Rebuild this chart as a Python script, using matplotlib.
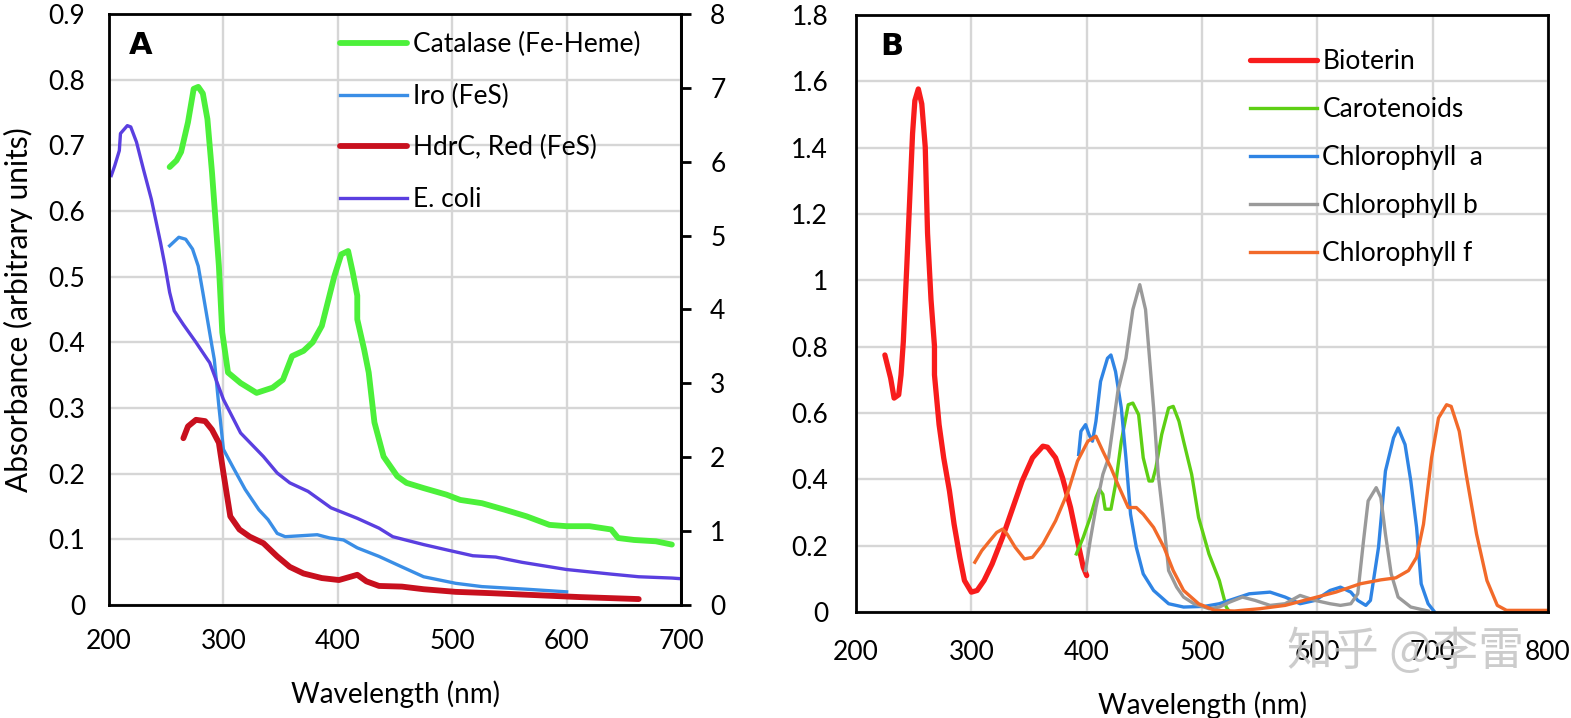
import matplotlib
matplotlib.use('Agg')
import matplotlib.pyplot as plt
import numpy as np

plt.rcParams['font.family'] = ['Lato', 'DejaVu Sans']

# ---------- Panel A data (left axis units) ----------
catalase_x = [253, 259, 263, 269, 274, 278, 282, 286, 290, 296, 299, 304, 315, 329, 343, 352, 360,
              370, 378, 386, 397, 403, 409, 413, 417, 417, 423, 427, 432, 440, 452, 460, 475, 495,
              507, 526, 546, 565, 585, 600, 620, 639, 645, 659, 678, 692]
catalase_y = [0.667, 0.677, 0.690, 0.735, 0.786, 0.789, 0.779, 0.740, 0.659, 0.517, 0.415, 0.354,
              0.338, 0.323, 0.331, 0.343, 0.379, 0.387, 0.400, 0.425, 0.501, 0.534, 0.539, 0.507,
              0.471, 0.435, 0.389, 0.354, 0.278, 0.226, 0.196, 0.186, 0.178, 0.168, 0.160, 0.155,
              0.145, 0.135, 0.122, 0.120, 0.120, 0.115, 0.102, 0.099, 0.097, 0.092]

iro_x = [253, 261, 267, 273, 278, 282, 286, 290, 292, 296, 300, 308, 319, 331, 339, 347, 354, 382,
         393, 405, 417, 436, 456, 475, 503, 526, 565, 600]
iro_y = [0.547, 0.560, 0.557, 0.542, 0.516, 0.476, 0.435, 0.394, 0.374, 0.303, 0.237, 0.211, 0.176,
         0.145, 0.130, 0.109, 0.104, 0.107, 0.102, 0.099, 0.087, 0.074, 0.058, 0.043, 0.033, 0.028,
         0.024, 0.020]

hdrc_x = [265, 269, 276, 284, 290, 296, 300, 306, 314, 323, 335, 347, 358, 370, 386, 401, 411, 417,
          425, 436, 456, 475, 503, 534, 573, 612, 663]
hdrc_y = [0.254, 0.272, 0.282, 0.280, 0.267, 0.247, 0.201, 0.135, 0.115, 0.104, 0.094, 0.074, 0.058,
          0.048, 0.041, 0.038, 0.043, 0.046, 0.036, 0.029, 0.028, 0.024, 0.020, 0.018, 0.015, 0.012,
          0.009]

ecoli_x = [202, 205, 209, 210, 216, 219, 224, 230, 237, 245, 249, 253, 257, 265, 276, 286, 288, 300,
           315, 335, 347, 358, 374, 394, 417, 436, 448, 475, 495, 518, 538, 561, 600, 639, 663, 692,
           700]
ecoli_y = [0.654, 0.669, 0.692, 0.718, 0.730, 0.728, 0.705, 0.664, 0.618, 0.552, 0.516, 0.476, 0.448,
           0.427, 0.400, 0.374, 0.369, 0.313, 0.262, 0.226, 0.201, 0.186, 0.173, 0.148, 0.132, 0.117,
           0.104, 0.092, 0.084, 0.075, 0.073, 0.065, 0.054, 0.047, 0.043, 0.041, 0.040]

# ---------- Panel B data ----------
bioterin_x = [225, 230, 233, 237, 239, 241, 244, 249, 251, 254, 257, 260, 262, 265, 268, 268, 272,
              276, 281, 285, 290, 294, 300, 305, 311, 318, 327, 335, 344, 353, 362, 366, 373, 379,
              386, 392, 397, 400]
bioterin_y = [0.775, 0.705, 0.645, 0.655, 0.715, 0.815, 1.042, 1.442, 1.542, 1.577, 1.532, 1.402,
              1.142, 0.942, 0.802, 0.715, 0.565, 0.465, 0.365, 0.265, 0.165, 0.095, 0.060, 0.065,
              0.095, 0.145, 0.225, 0.305, 0.395, 0.465, 0.500, 0.497, 0.465, 0.405, 0.315, 0.215,
              0.135, 0.110]

carot_x = [391, 397, 403, 408, 411, 414, 416, 421, 425, 430, 436, 440, 445, 449, 454, 457, 460, 465,
           471, 475, 480, 484, 491, 497, 506, 515, 521, 524]
carot_y = [0.175, 0.225, 0.285, 0.345, 0.370, 0.355, 0.310, 0.310, 0.385, 0.515, 0.625, 0.630, 0.595,
           0.465, 0.395, 0.395, 0.435, 0.535, 0.615, 0.620, 0.575, 0.515, 0.415, 0.285, 0.175, 0.095,
           0.015, 0.0]

chla_x = [393, 395, 399, 402, 405, 408, 412, 418, 421, 425, 430, 434, 438, 443, 449, 458, 471, 484,
          502, 515, 528, 541, 559, 572, 585, 598, 611, 620, 629, 635, 642, 646, 653, 659, 666, 670,
          676, 681, 686, 690, 696, 701]
chla_y = [0.475, 0.545, 0.565, 0.535, 0.515, 0.575, 0.695, 0.765, 0.775, 0.725, 0.615, 0.465, 0.295,
          0.195, 0.115, 0.065, 0.025, 0.015, 0.017, 0.025, 0.040, 0.055, 0.060, 0.045, 0.025, 0.035,
          0.065, 0.075, 0.060, 0.035, 0.020, 0.035, 0.195, 0.425, 0.525, 0.555, 0.505, 0.395, 0.255,
          0.085, 0.025, 0.003]

chlb_x = [399, 403, 408, 414, 419, 423, 427, 434, 440, 446, 451, 454, 458, 462, 467, 471, 478, 484,
          493, 506, 515, 524, 535, 546, 559, 572, 585, 598, 611, 620, 629, 635, 640, 644, 651, 655,
          659, 664, 670, 681, 696]
chlb_y = [0.125, 0.215, 0.315, 0.415, 0.465, 0.565, 0.665, 0.765, 0.912, 0.987, 0.912, 0.785, 0.615,
          0.415, 0.265, 0.125, 0.075, 0.045, 0.025, 0.010, 0.015, 0.030, 0.045, 0.035, 0.020, 0.025,
          0.050, 0.035, 0.025, 0.020, 0.025, 0.055, 0.215, 0.335, 0.375, 0.345, 0.235, 0.115, 0.045,
          0.015, 0.003]

chlf_x = [303, 309, 316, 322, 327, 331, 338, 346, 353, 362, 373, 384, 392, 401, 408, 414, 421, 427,
          436, 443, 449, 458, 467, 475, 484, 497, 511, 528, 550, 572, 594, 616, 637, 655, 668, 679,
          686, 692, 699, 705, 712, 716, 723, 729, 738, 747, 756, 764, 800]
chlf_y = [0.150, 0.185, 0.215, 0.240, 0.250, 0.235, 0.195, 0.160, 0.165, 0.205, 0.275, 0.365, 0.455,
          0.515, 0.530, 0.485, 0.435, 0.385, 0.315, 0.315, 0.295, 0.255, 0.195, 0.125, 0.065, 0.025,
          0.005, 0.003, 0.010, 0.020, 0.040, 0.060, 0.085, 0.097, 0.103, 0.125, 0.165, 0.265, 0.465,
          0.585, 0.625, 0.620, 0.545, 0.415, 0.235, 0.095, 0.020, 0.005, 0.005]

a_labels = ['Catalase (Fe-Heme)', 'Iro (FeS)', 'HdrC, Red (FeS)', 'E. coli']
b_labels = ['Bioterin', 'Carotenoids', 'Chlorophyll  a', 'Chlorophyll b', 'Chlorophyll f']

grid_col = '#d6d6d6'
tick_fs = 19
leg_fs = 19

fig = plt.figure(figsize=(15.71, 7.18), dpi=100)

# ---- Panel A ----
ax1 = fig.add_axes([0.0694, 0.1574, 0.3641, 0.8231])
ax1.plot(catalase_x, catalase_y, color='#4cf03a', lw=4.2, label=a_labels[0], solid_capstyle='round')
ax1.plot(iro_x, iro_y, color='#3a8ee6', lw=2.4, label=a_labels[1])
ax1.plot(hdrc_x, hdrc_y, color='#c8101e', lw=4.2, label=a_labels[2], solid_capstyle='round')
ax1.plot(ecoli_x, ecoli_y, color='#5a3fe0', lw=2.4, label=a_labels[3])
ax1.set_xlim(200, 700)
ax1.set_ylim(0, 0.9)
ax1.set_xticks(range(200, 701, 100))
ax1.set_yticks(np.arange(0, 0.91, 0.1))
ax1.set_yticklabels(['0'] + ['%.1f' % v for v in np.arange(0.1, 0.91, 0.1)])
ax1.tick_params(axis='both', length=0, labelsize=tick_fs, pad=17)
ax1.grid(True, color=grid_col, lw=1.7)
ax1.set_axisbelow(True)
for s in ax1.spines.values():
    s.set_linewidth(2.0)
ax1.set_xlabel('Wavelength (nm)', fontsize=20, labelpad=19)
ax1.set_ylabel('Absorbance (arbitrary units)', fontsize=21.5, labelpad=11)
ax1.text(0.035, 0.972, 'A', transform=ax1.transAxes, fontsize=22, fontweight='bold',
         family='DejaVu Sans', va='top')
ax1.legend(loc='upper left', bbox_to_anchor=(0.404, 0.969), frameon=False, fontsize=leg_fs,
           handlelength=2.55, handletextpad=0.2, labelspacing=1.0, borderaxespad=0, borderpad=0)

ax1r = ax1.twinx()
ax1r.set_ylim(0, 8)
ax1r.set_yticks(range(0, 9))
ax1r.tick_params(axis='y', length=7, width=2, labelsize=tick_fs, pad=14)
ax1r.spines['right'].set_linewidth(2.0)

# ---- Panel B ----
ax2 = fig.add_axes([0.5449, 0.1476, 0.4405, 0.8315])
ax2.plot(bioterin_x, bioterin_y, color='#f81c1c', lw=3.8, label=b_labels[0], solid_capstyle='round')
ax2.plot(carot_x, carot_y, color='#5ecf14', lw=2.4, label=b_labels[1])
ax2.plot(chla_x, chla_y, color='#2f84e4', lw=2.4, label=b_labels[2])
ax2.plot(chlb_x, chlb_y, color='#9a9a9a', lw=2.4, label=b_labels[3])
ax2.plot(chlf_x, chlf_y, color='#f26a2a', lw=2.4, label=b_labels[4])
ax2.set_xlim(200, 800)
ax2.set_ylim(0, 1.8)
ax2.set_xticks(range(200, 801, 100))
yt = [0, 0.2, 0.4, 0.6, 0.8, 1.0, 1.2, 1.4, 1.6, 1.8]
ax2.set_yticks(yt)
ax2.set_yticklabels(['0', '0.2', '0.4', '0.6', '0.8', '1', '1.2', '1.4', '1.6', '1.8'])
ax2.tick_params(axis='both', length=0, labelsize=tick_fs, pad=20)
ax2.grid(True, color=grid_col, lw=1.7)
ax2.set_axisbelow(True)
for s in ax2.spines.values():
    s.set_linewidth(2.0)
ax2.set_xlabel('Wavelength (nm)', fontsize=20, labelpad=19)
ax2.text(0.035, 0.972, 'B', transform=ax2.transAxes, fontsize=22, fontweight='bold',
         family='DejaVu Sans', va='top')
ax2.legend(loc='upper left', bbox_to_anchor=(0.569, 0.943), frameon=False, fontsize=leg_fs,
           handlelength=2.55, handletextpad=0.2, labelspacing=0.87, borderaxespad=0, borderpad=0)

# watermark
fig.text(0.8195, 0.092, '知乎 @李雷', fontsize=33, color='#c4c4c4', alpha=0.85,
         family=['Noto Sans CJK SC', 'DejaVu Sans'], ha='left', va='center')

fig.savefig('out.png', dpi=100)
